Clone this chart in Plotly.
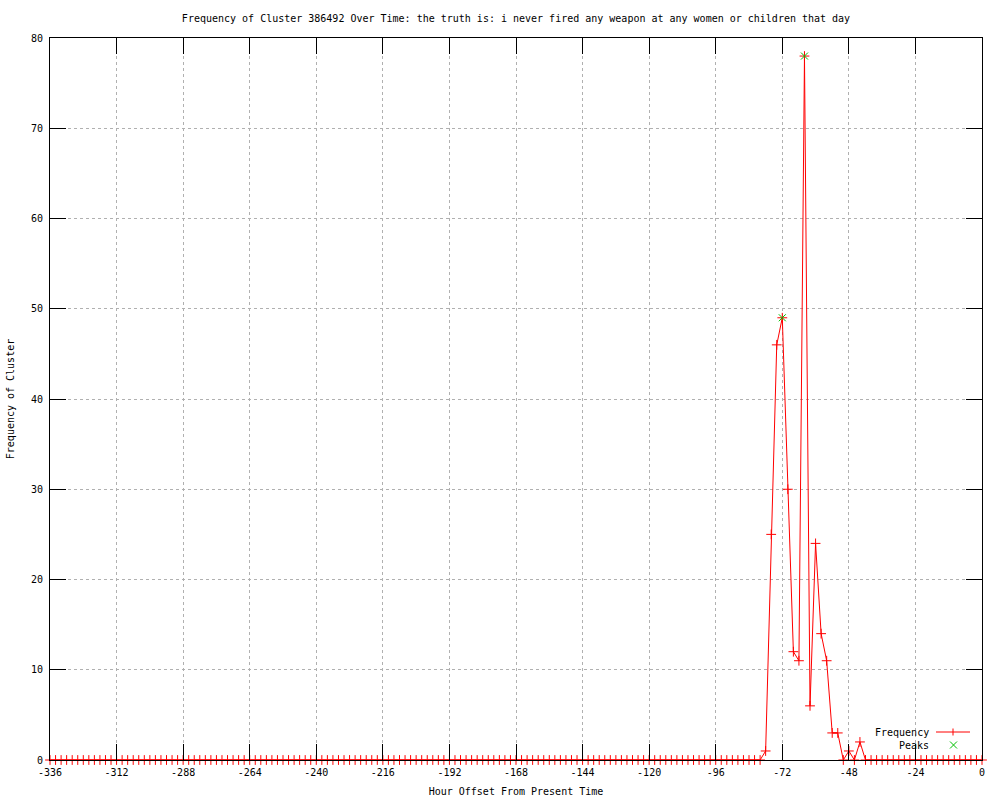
import plotly.graph_objects as go

# Data: hour offsets sampled every 2 hours from -336 to 0
hours = list(range(-336, 2, 2))
frequency = [
    0, 0, 0, 0, 0, 0, 0, 0, 0, 0, 0, 0, 0, 0, 0, 0,   # -336 .. -306
    0, 0, 0, 0, 0, 0, 0, 0, 0, 0, 0, 0, 0, 0, 0, 0,   # -304 .. -274
    0, 0, 0, 0, 0, 0, 0, 0, 0, 0, 0, 0, 0, 0, 0, 0,   # -272 .. -242
    0, 0, 0, 0, 0, 0, 0, 0, 0, 0, 0, 0, 0, 0, 0, 0,   # -240 .. -210
    0, 0, 0, 0, 0, 0, 0, 0, 0, 0, 0, 0, 0, 0, 0, 0,   # -208 .. -178
    0, 0, 0, 0, 0, 0, 0, 0, 0, 0, 0, 0, 0, 0, 0, 0,   # -176 .. -146
    0, 0, 0, 0, 0, 0, 0, 0, 0, 0, 0, 0, 0, 0, 0, 0,   # -144 .. -114
    0, 0, 0, 0, 0, 0, 0, 0, 0, 0, 0, 0, 0, 0, 0, 0,   # -112 .. -82
    0,                                                # -80
    1, 25, 46, 49, 30, 12, 11, 78, 6, 24, 14, 11, 3, 3, 0, 1, 0, 2,  # -78 .. -44
    0, 0, 0, 0, 0, 0, 0, 0, 0, 0, 0,                  # -42 .. -22
    0, 0, 0, 0, 0, 0, 0, 0, 0, 0, 0,                  # -20 .. 0
]
peak_hours = [-72, -64]
peak_values = [49, 78]

x_ticks = list(range(-336, 1, 24))
y_ticks = list(range(0, 81, 10))

title_text = "Frequency of Cluster 386492 Over Time: the truth is: i never fired any weapon at any women or children that day"

FONT = "DejaVu Sans Mono"
FS = 10
RED = "#ff0000"
GREEN = "#00c000"
GRID = "#b0b0b0"

fig = go.Figure()
fig.add_trace(go.Scatter(
    x=hours, y=frequency, mode="lines+markers", name="Frequency",
    line=dict(color=RED, width=1),
    marker=dict(symbol="cross-thin", size=7, line=dict(color=RED, width=1)),
    cliponaxis=False, showlegend=False,
))
fig.add_trace(go.Scatter(
    x=peak_hours, y=peak_values, mode="markers", name="Peaks",
    marker=dict(symbol="x-thin", size=7, line=dict(color=GREEN, width=1)),
    cliponaxis=False, showlegend=False,
))

# plot area in pixels
L, R, T, B = 50, 982, 38, 760
W, H = 1000, 800


def px(x):
    return (x - L) / (R - L)


def py(y):
    return (B - y) / (B - T)


shapes = []
annotations = []
# custom gnuplot-style legend (text right-aligned, sample on the right)
legend_items = [("Frequency", 732), ("Peaks", 745)]
for label, yy in legend_items:
    annotations.append(dict(
        x=px(931), y=py(yy), xref="paper", yref="paper", text=label,
        showarrow=False, xanchor="right", yanchor="middle",
        font=dict(family=FONT, size=FS, color="black"),
    ))
# Frequency sample: line with +
shapes.append(dict(type="line", xref="paper", yref="paper",
                   x0=px(936), x1=px(970), y0=py(732), y1=py(732),
                   line=dict(color=RED, width=1)))
shapes.append(dict(type="line", xref="paper", yref="paper",
                   x0=px(953), x1=px(953), y0=py(728.5), y1=py(735.5),
                   line=dict(color=RED, width=1)))
# Peaks sample: green x
shapes.append(dict(type="line", xref="paper", yref="paper",
                   x0=px(950), x1=px(957), y0=py(741.5), y1=py(748.5),
                   line=dict(color=GREEN, width=1)))
shapes.append(dict(type="line", xref="paper", yref="paper",
                   x0=px(950), x1=px(957), y0=py(748.5), y1=py(741.5),
                   line=dict(color=GREEN, width=1)))

fig.update_layout(
    width=W, height=H,
    margin=dict(l=L, r=W - R, t=T, b=H - B),
    paper_bgcolor="white", plot_bgcolor="white",
    font=dict(family=FONT, size=FS, color="black"),
    title=dict(text=title_text, x=0.5, xref="paper", y=1 - 18 / H, yanchor="middle",
               font=dict(family=FONT, size=FS, color="black")),
    shapes=shapes, annotations=annotations,
    showlegend=False,
)
fig.update_xaxes(
    range=[-336, 0], tickvals=x_ticks, ticktext=[str(v) for v in x_ticks],
    showline=True, linecolor="black", linewidth=1, mirror="allticks",
    ticks="inside", ticklen=16, tickcolor="black", tickwidth=1,
    ticklabelstandoff=3,
    showgrid=True, gridcolor=GRID, griddash="dot", gridwidth=1,
    zeroline=False,
    title=dict(text="Hour Offset From Present Time", standoff=10,
               font=dict(family=FONT, size=FS)),
    automargin=False,
)
fig.update_yaxes(
    range=[0, 80], tickvals=y_ticks, ticktext=[str(v) for v in y_ticks],
    showline=True, linecolor="black", linewidth=1, mirror="allticks",
    ticks="inside", ticklen=16, tickcolor="black", tickwidth=1,
    ticklabelstandoff=4,
    showgrid=True, gridcolor=GRID, griddash="dot", gridwidth=1,
    zeroline=False,
    title=dict(text="Frequency of Cluster", standoff=14,
               font=dict(family=FONT, size=FS)),
    automargin=False,
)

fig.write_html("out.html", config={"displayModeBar": False},
               post_script="document.body.style.margin='0';document.body.style.padding='0';")
